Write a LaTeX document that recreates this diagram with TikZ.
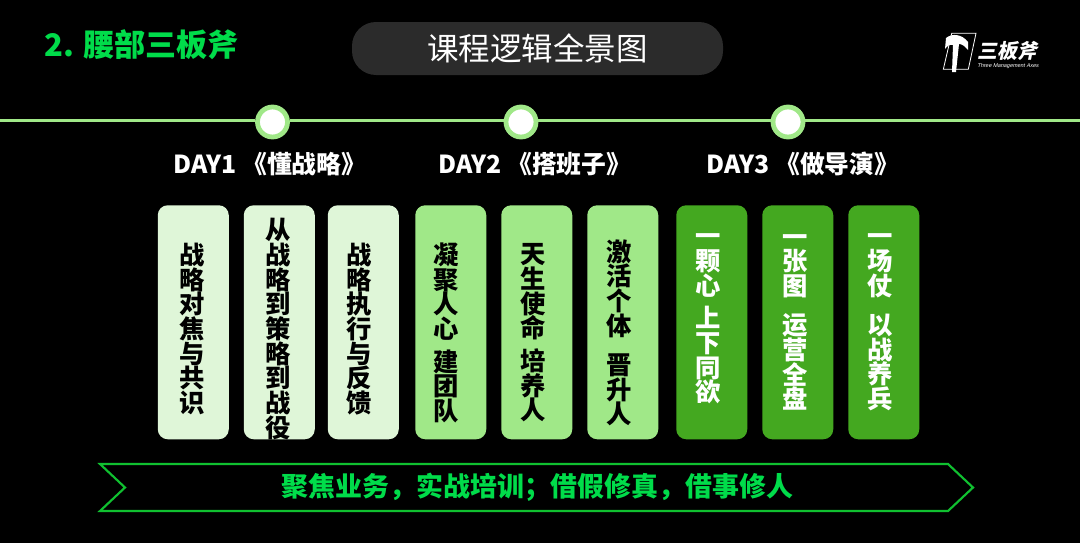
\documentclass[tikz,border=0pt]{standalone}
\usepackage{fontspec}
\setmainfont{Noto Sans CJK SC}
\newfontfamily\logofont[FakeSlant=0.2]{Noto Sans CJK SC}
\newfontfamily\logolatin[FakeSlant=0.2]{Liberation Sans}
\definecolor{bright}{HTML}{00DC4A}
\definecolor{pale}{HTML}{DFF6D8}
\definecolor{mid}{HTML}{A0E888}
\definecolor{deep}{HTML}{44A820}
\definecolor{bandline}{HTML}{10C030}
\tikzset{
  card/.style={rounded corners=7.5, minimum width=53.25pt, minimum height=175.5pt, inner sep=0pt, anchor=north west},
  vtext/.style={font=\bfseries\fontsize{19}{18.5}\selectfont, align=center, inner sep=0pt, anchor=center},
  dot/.style={circle, draw=mid, line width=3.6pt, fill=white, minimum size=22.5pt, inner sep=0pt},
  daylabel/.style={text=white, font=\bfseries\fontsize{18.6}{20}\selectfont, inner sep=0pt, anchor=west},
  timeline/.style={draw=mid, line width=2.2pt},
}
\newcommand{\gapline}{\\[6pt]}
\begin{document}
\begin{tikzpicture}[x=0.75pt,y=-0.75pt]
\fill[black] (0,0) rectangle (1080,543);
\useasboundingbox (0,0) rectangle (1080,543);

\node[anchor=west,inner sep=0pt,text=bright,font=\bfseries\fontsize{23.3}{26}\selectfont] (head) at (44,45) {2. 腰部三板斧};

\node[fill=white!17!black,rounded corners=18,minimum width=278.25pt,minimum height=39.75pt,inner sep=0pt,text=white,font=\fontsize{23.6}{26}\selectfont] (title) at (537.5,48.5) {课程逻辑全景图};

% logo
\draw[white,line width=0.6pt] (951.7,33.3) -- (976,33.3) -- (968.3,69.3) -- (943.3,69.3) -- cycle;
\fill[white] (946,38) .. controls (952,33) and (962,34) .. (968,42) -- (968,50) .. controls (964,45) and (961,44) .. (959,44) -- (956,72) -- (952,72) -- (953,45) .. controls (950,44) and (947,46) .. (945,49) -- cycle;
\node[anchor=west,inner sep=0pt,text=white,font=\logofont\bfseries\fontsize{15}{16}\selectfont] (logotext) at (977,51) {三板斧};
\node[anchor=west,inner sep=0pt,text=white,font=\logolatin\fontsize{4.1}{5}\selectfont] (logosub) at (977,66) {Three Management Axes};

% timeline
\coordinate (tl) at (0,120.5);
\coordinate (tr) at (1080,120.5);
\node[dot] (d1) at (272.5,122) {};
\node[dot] (d2) at (521,122) {};
\node[dot] (d3) at (788,122) {};
\draw[timeline] (tl) -- (d1.west |- tl);
\draw[timeline] (d1.east |- tl) -- (d2.west |- tl);
\draw[timeline] (d2.east |- tl) -- (d3.west |- tl);
\draw[timeline] (d3.east |- tl) -- (tr);

\node[daylabel] (l1) at (173,164) {DAY1\hspace{4pt}《懂战略》};
\node[daylabel] (l2) at (438,164) {DAY2\hspace{4pt}《搭班子》};
\node[daylabel] (l3) at (706,164) {DAY3\hspace{4pt}《做导演》};

% cards
\node[card,fill=pale] (c1) at (157.5,205) {};
\node[card,fill=pale] (c2) at (243.5,205) {};
\node[card,fill=pale] (c3) at (327.5,205) {};
\node[card,fill=mid] (c4) at (415,205) {};
\node[card,fill=mid] (c5) at (501,205) {};
\node[card,fill=mid] (c6) at (587,205) {};
\node[card,fill=deep] (c7) at (676,205) {};
\node[card,fill=deep] (c8) at (762,205) {};
\node[card,fill=deep] (c9) at (848,205) {};

\node[vtext,text=black] (t1) at (192,329) {战\\略\\对\\焦\\与\\共\\识};
\node[vtext,text=black] (t2) at (278.5,329) {从\\战\\略\\到\\策\\略\\到\\战\\役};
\node[vtext,text=black] (t3) at (359.5,329) {战\\略\\执\\行\\与\\反\\馈};
\node[vtext,text=black] (t4) at (446,333) {凝\\聚\\人\\心\gapline 建\\团\\队};
\node[vtext,text=black] (t5) at (533,333) {天\\生\\使\\命\gapline 培\\养\\人};
\node[vtext,text=black] (t6) at (619,333) {激\\活\\个\\体\\[11pt]晋\\升\\人};
\node[vtext,text=white] (t7) at (708,319) {一\\颗\\心\gapline 上\\下\\同\\欲};
\node[vtext,text=white] (t8) at (795,322.5) {一\\张\\图\\[11pt]运\\营\\全\\盘};
\node[vtext,text=white] (t9) at (880,322.5) {一\\场\\仗\\[11pt]以\\战\\养\\兵};

% banner
\draw[bandline,line width=1.6pt,line join=miter] (100,464) -- (948,464) -- (973,487.5) -- (948,511) -- (100,511) -- (125,487.5) -- cycle;
\node[inner sep=0pt,text=bright,font=\bfseries\fontsize{20.2}{23}\selectfont] (band) at (537.5,487) {聚焦业务，实战培训；借假修真，借事修人};
\end{tikzpicture}
\end{document}
